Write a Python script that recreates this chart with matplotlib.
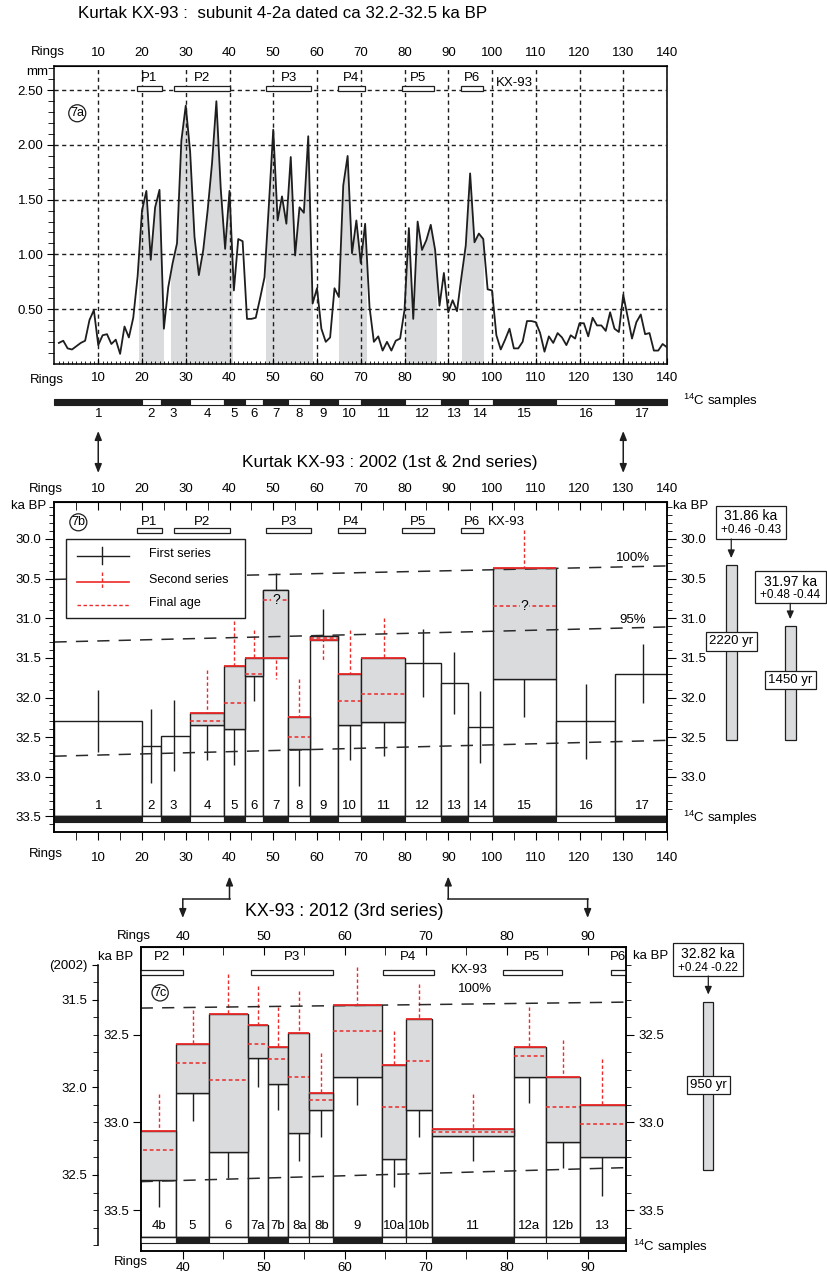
import numpy as np
import matplotlib
matplotlib.use('Agg')
import matplotlib.pyplot as plt
from matplotlib.patches import Rectangle
from matplotlib.transforms import blended_transform_factory as blend
from matplotlib.ticker import FormatStrFormatter

plt.rcParams['font.family'] = ['Liberation Sans', 'DejaVu Sans']
plt.rcParams['mathtext.fontset'] = 'custom'
plt.rcParams['mathtext.rm'] = 'Liberation Sans'
plt.rcParams['font.size'] = 9.5

INK = '#1e1e1e'
RED = '#ec2a2a'
GRAY = '#dadbdd'

# ---------------- data ----------------
# 7a : ring widths, mm
ring_no = np.arange(1, 141)
ring_width = [0.19, 0.21, 0.14, 0.13, 0.16, 0.19, 0.21, 0.40, 0.49, 0.17,
              0.26, 0.27, 0.18, 0.22, 0.09, 0.34, 0.24, 0.42, 0.80, 1.40,
              1.58, 0.95, 1.43, 1.59, 0.32, 0.70, 0.92, 1.10, 2.04, 2.36,
              1.94, 1.16, 0.81, 1.04, 1.40, 1.83, 2.40, 1.60, 1.05, 1.58,
              0.67, 1.14, 1.12, 0.41, 0.41, 0.42, 0.60, 0.79, 1.45, 2.14,
              1.31, 1.53, 1.28, 1.89, 0.99, 1.43, 1.38, 2.08, 0.55, 0.69,
              0.32, 0.20, 0.24, 0.69, 0.61, 1.63, 1.90, 1.01, 1.31, 0.92,
              1.28, 0.52, 0.20, 0.25, 0.12, 0.20, 0.12, 0.21, 0.23, 0.49,
              1.24, 0.41, 1.30, 1.04, 1.13, 1.27, 1.04, 0.53, 0.83, 0.47,
              0.58, 0.48, 0.79, 1.08, 1.74, 1.11, 1.19, 1.14, 0.68, 0.67,
              0.26, 0.13, 0.22, 0.32, 0.14, 0.14, 0.20, 0.39, 0.39, 0.38,
              0.28, 0.11, 0.25, 0.19, 0.28, 0.24, 0.17, 0.26, 0.23, 0.37,
              0.37, 0.25, 0.42, 0.35, 0.35, 0.30, 0.47, 0.32, 0.29, 0.63,
              0.43, 0.23, 0.38, 0.45, 0.27, 0.28, 0.12, 0.12, 0.18, 0.15]
shade_from = [19.4, 26.6, 48.3, 65.1, 80.1, 93.1]
shade_to = [24.7, 40.6, 58.8, 71.1, 87.1, 98.0]

p_names = ['P1', 'P2', 'P3', 'P4', 'P5', 'P6']
p_from = [18.9, 27.4, 48.4, 64.7, 79.5, 92.9]
p_to = [24.5, 40.0, 58.6, 71.0, 86.8, 98.0]

# 7b : 2002 dating, 1st & 2nd series (ka BP)
s02 = [str(i) for i in range(1, 18)]
s02_edges = [0, 20, 24.3, 31, 38.8, 43.5, 47.7, 53.4, 58.4, 64.7, 70, 80.1,
             88.3, 94.4, 100.2, 114.7, 128.1, 140]
s02_first = [32.30, 32.61, 32.48, 32.35, 32.40, 31.73, 30.65, 32.65, 31.22,
             32.35, 32.31, 31.56, 31.82, 32.37, 31.77, 32.30, 31.70]
s02_mid = [10, 22.1, 27.2, 34.9, 41.1, 45.6, 50.6, 55.9, 61.3, 67.5, 75.2,
           84.2, 91.4, 97.3, 107.4, 121.5, 134.4]
s02_err_top = [31.91, 32.15, 32.03, 32.30, 32.20, 31.60, 30.43, 32.45, 30.88,
               32.10, 32.10, 31.13, 31.43, 31.92, 31.30, 31.83, 31.33]
s02_err_bot = [32.69, 33.08, 32.93, 32.79, 32.85, 32.05, 30.80, 33.11, 31.25,
               32.79, 32.74, 31.99, 32.21, 32.82, 32.24, 32.77, 32.07]
s02_redated = ['4', '5', '6', '7', '8', '9', '10', '11', '15']
s02_second = [32.19, 31.60, 31.50, 31.50, 32.25, 31.27, 31.70, 31.50, 30.36]
s02_final = [32.30, 32.07, 31.70, 30.77, 32.50, 31.245, 32.04, 31.95, 30.85]
s02_red_top = [31.65, 31.04, 31.15, 31.30, 31.77, 31.25, 31.15, 31.00, 29.89]
s02_red_bot = [32.25, 31.90, 31.60, 31.77, 32.40, 31.53, 31.90, 31.90, 30.80]
s02_unsure = ['7', '15']
s02_line100 = [30.51, 30.34]
s02_line95 = [31.30, 31.11]
s02_line_low = [32.74, 32.54]
sum02_top = [30.33, 31.10]
sum02_bot = [32.54, 32.54]
sum02_age = ['31.86 ka', '31.97 ka']
sum02_err = ['+0.46 -0.43', '+0.48 -0.44']
sum02_span = ['2220 yr', '1450 yr']

# 7c : 2012 dating, 3rd series (ka BP)
s12 = ['4b', '5', '6', '7a', '7b', '8a', '8b', '9', '10a', '10b', '11', '12a', '12b', '13']
s12_edges = [33.5, 39.2, 43.2, 48.1, 50.5, 53.0, 55.6, 58.5, 64.6, 67.6, 70.8,
             80.9, 84.8, 89.0, 96.0]
s12_first = [33.33, 32.83, 33.17, 32.63, 32.78, 33.06, 32.93, 32.74, 33.21,
             32.93, 33.075, 32.74, 33.11, 33.20]
s12_second = [33.05, 32.55, 32.38, 32.445, 32.57, 32.49, 32.83, 32.33, 32.67,
              32.41, 33.04, 32.57, 32.74, 32.90]
s12_final = [33.16, 32.66, 32.76, 32.55, 32.64, 32.74, 32.87, 32.48, 32.91,
             32.65, 33.055, 32.62, 32.91, 33.01]
s12_mid = [37.0, 41.2, 45.6, 49.3, 51.7, 54.4, 57.1, 61.5, 66.1, 69.2, 75.8,
           82.8, 86.9, 91.8]
s12_err_bot = [33.48, 32.99, 33.32, 32.80, 32.93, 33.22, 33.085, 32.90, 33.37,
               33.085, 33.22, 32.89, 33.26, 33.42]
s12_red_top = [32.84, 32.36, 32.15, 32.22, 32.34, 32.25, 32.605, 32.11, 32.48,
               32.21, 32.84, 32.34, 32.53, 32.64]
s12_line100 = [32.347, 32.313]
s12_line_low = [33.338, 33.258]
s12_offset_2002 = 0.8
sum12_top, sum12_bot = 32.31, 33.27
sum12_age, sum12_err, sum12_span = '32.82 ka', '+0.24 -0.22', '950 yr'

# ---------------- figure ----------------
W, H = 827, 1275
fig = plt.figure(figsize=(W / 100, H / 100), dpi=100)


def box(x0, y0, x1, y1):
    return fig.add_axes([x0 / W, 1 - y1 / H, (x1 - x0) / W, (y1 - y0) / H])


ov = fig.add_axes([0, 0, 1, 1], zorder=10)
ov.set_xlim(0, W)
ov.set_ylim(H, 0)
ov.axis('off')


def odd(name):
    return int(''.join(c for c in name if c.isdigit())) % 2 == 1


dash_grid = (0, (3, 2.5))
long_dash = (0, (8, 6))
red_dot = (0, (2.5, 1.8))

# ================= 7a =================
ax_a = box(54.5, 65.7, 667, 363.7)
ax_a.set_xlim(0, 140)
ax_a.set_ylim(0, 2.725)
ax_a.set_axisbelow(False)
for a, b in zip(shade_from, shade_to):
    pc = ax_a.fill_between(ring_no, 0, ring_width, color=GRAY, lw=0, zorder=1)
    pc.set_clip_path(Rectangle((a, 0), b - a, 3, transform=ax_a.transData))
ax_a.plot(ring_no, ring_width, color=INK, lw=1.3, zorder=3)
ax_a.set_xticks(np.arange(10, 141, 10))
ax_a.set_xticks(np.arange(1, 140), minor=True)
ax_a.set_yticks([0.5, 1.0, 1.5, 2.0, 2.5])
ax_a.set_yticks(np.arange(0.1, 2.75, 0.1), minor=True)
ax_a.yaxis.set_major_formatter(FormatStrFormatter('%.2f'))
ax_a.grid(True, which='major', color=INK, lw=1.0, ls=dash_grid)
ax_a.tick_params(axis='x', which='major', direction='in', length=4, pad=6, labelsize=9.5)
ax_a.tick_params(axis='x', which='minor', direction='in', length=2.5)
ax_a.tick_params(axis='y', which='major', direction='out', length=5, pad=3, labelsize=9.5)
ax_a.tick_params(axis='y', which='minor', direction='out', length=4)
ta = ax_a.secondary_xaxis('top')
ta.set_xticks(np.arange(10, 141, 10))
ta.tick_params(length=0, pad=5, labelsize=9.5)
for s in ax_a.spines.values():
    s.set_linewidth(1.1)
for n, a, b in zip(p_names, p_from, p_to):
    ax_a.add_patch(Rectangle((a, 2.49), b - a, 0.045, fc='white', ec=INK, lw=0.9, zorder=5))
    ax_a.text((a + b) / 2, 2.61, n, ha='center', va='center', fontsize=9.5, zorder=5)
ax_a.text(100.9, 2.565, 'KX-93', ha='left', va='center', fontsize=9.5, zorder=5)
ax_a.text(5.2, 2.29, '7a', ha='center', va='center', fontsize=9,
          bbox=dict(boxstyle='circle,pad=0.12', fc='white', ec=INK, lw=0.9), zorder=5)

# sample band under 7a
ba = blend(ax_a.transData, ov.transData)
for i, n in enumerate(s02):
    x0, x1 = s02_edges[i], s02_edges[i + 1]
    ov.add_patch(Rectangle((x0, 399), x1 - x0, 5.5, transform=ba,
                           fc=INK if odd(n) else 'white', ec=INK, lw=0.8, clip_on=False))
    ov.text(s02_mid[i], 414, n, transform=ba, ha='center', va='center', fontsize=9.5)
ov.text(683, 405, r'$^{14}$C samples', ha='left', va='baseline', fontsize=9.5)

# ================= 7b =================
ax_b = box(54.5, 501.7, 667, 832.3)
ax_b.set_xlim(0, 140)
ax_b.set_ylim(33.70, 29.53)
for i, n in enumerate(s02):
    x0, x1 = s02_edges[i], s02_edges[i + 1]
    ax_b.add_patch(Rectangle((x0, s02_first[i]), x1 - x0, 33.5 - s02_first[i],
                             fc='white', ec=INK, lw=1.0, zorder=2))
    ax_b.vlines(s02_mid[i], s02_err_top[i], s02_err_bot[i], color=INK, lw=1.0, zorder=3)
    ax_b.text(s02_mid[i], 33.37, n, ha='center', va='center', fontsize=9.5, zorder=6)
    ax_b.add_patch(Rectangle((x0, 33.5), x1 - x0, 0.065,
                             fc=INK if odd(n) else 'white', ec=INK, lw=0.8, zorder=6))
for j, n in enumerate(s02_redated):
    i = s02.index(n)
    x0, x1 = s02_edges[i], s02_edges[i + 1]
    lo, hi = sorted([s02_first[i], s02_second[j]])
    ax_b.vlines(s02_mid[i], s02_red_top[j], s02_red_bot[j], color=RED, lw=1.0, ls=red_dot, zorder=3)
    ax_b.add_patch(Rectangle((x0, lo), x1 - x0, hi - lo, fc=GRAY, ec=INK, lw=1.0, zorder=4))
    ax_b.hlines(s02_second[j], x0, x1, color=RED, lw=1.3, zorder=5)
    ax_b.hlines(s02_final[j], x0, x1, color=RED, lw=1.1, ls=red_dot, zorder=5)
    if n in s02_unsure:
        ax_b.text(s02_mid[i], s02_final[j], '?', ha='center', va='center', fontsize=10, zorder=6,
                  bbox=dict(boxstyle='square,pad=0.05', fc=GRAY, ec='none'))
ax_b.hlines(33.5, 0, 140, color=INK, lw=1.0, zorder=6)
for lv in (s02_line100, s02_line95, s02_line_low):
    ax_b.plot([0, 140], lv, color='#2a2a2a', lw=1.1, ls=long_dash, zorder=4.5)
ax_b.text(132.2, 30.24, '100%', ha='center', va='center', fontsize=9.5, zorder=6)
ax_b.text(132.1, 31.02, '95%', ha='center', va='center', fontsize=9.5, zorder=6)
for n, a, b in zip(p_names, p_from, p_to):
    ax_b.add_patch(Rectangle((a, 29.86), b - a, 0.06, fc='white', ec=INK, lw=0.9, zorder=5))
    ax_b.text((a + b) / 2, 29.78, n, ha='center', va='center', fontsize=9.5, zorder=5)
ax_b.text(99.0, 29.79, 'KX-93', ha='left', va='center', fontsize=9.5, zorder=5)
ax_b.text(5.45, 29.79, '7b', ha='center', va='center', fontsize=9,
          bbox=dict(boxstyle='circle,pad=0.12', fc='white', ec=INK, lw=0.9), zorder=5)

# legend
ax_b.add_patch(Rectangle((2.55, 30.0), 40.95, 1.0, fc='white', ec=INK, lw=1.0, zorder=7))
ax_b.plot([5.1, 17.0], [30.21, 30.21], color=INK, lw=1.0, zorder=8)
ax_b.plot([10.8, 10.8], [30.10, 30.32], color=INK, lw=1.0, zorder=8)
ax_b.text(21.7, 30.19, 'First series', va='center', fontsize=9, zorder=8)
ax_b.plot([5.1, 17.0], [30.54, 30.54], color=RED, lw=1.2, zorder=8)
ax_b.plot([10.8, 10.8], [30.42, 30.65], color=RED, lw=1.0, ls=red_dot, zorder=8)
ax_b.text(21.7, 30.52, 'Second series', va='center', fontsize=9, zorder=8)
ax_b.plot([5.1, 17.0], [30.83, 30.83], color=RED, lw=1.0, ls=red_dot, zorder=8)
ax_b.text(21.7, 30.81, 'Final age', va='center', fontsize=9, zorder=8)

ax_b.set_xticks(np.arange(10, 141, 10))
ax_b.set_xticks(np.arange(5, 140, 10), minor=True)
ax_b.tick_params(axis='x', which='both', direction='out', length=6, pad=8, labelsize=9.5)
tb = ax_b.secondary_xaxis('top')
tb.set_xticks(np.arange(10, 141, 10))
tb.set_xticks(np.arange(5, 140, 10), minor=True)
tb.tick_params(which='both', direction='in', length=6, pad=5, labelsize=9.5)
ax_b.set_yticks(np.arange(30.0, 33.51, 0.5))
ax_b.set_yticks(np.arange(29.6, 33.65, 0.1), minor=True)
ax_b.yaxis.set_major_formatter(FormatStrFormatter('%.1f'))
ax_b.tick_params(axis='y', which='major', direction='out', length=6.5, pad=3, labelsize=9.5)
ax_b.tick_params(axis='y', which='minor', direction='out', length=3.5)
rb = ax_b.twinx()
rb.set_ylim(ax_b.get_ylim())
rb.set_yticks(np.arange(30.0, 33.01, 0.5))
rb.set_yticks(np.arange(29.6, 33.45, 0.1), minor=True)
rb.yaxis.set_major_formatter(FormatStrFormatter('%.1f'))
rb.tick_params(axis='y', which='major', direction='out', length=6.5, pad=3, labelsize=9.5)
rb.tick_params(axis='y', which='minor', direction='out', length=3.5)
for a_ in (ax_b, rb):
    for s in a_.spines.values():
        s.set_linewidth(1.1)

# summary bars for 7b
bb = blend(ov.transData, ax_b.transData)
bar_x = [726, 785]
for k in range(2):
    ov.add_patch(Rectangle((bar_x[k], sum02_top[k]), 10.5, sum02_bot[k] - sum02_top[k],
                           transform=bb, fc=GRAY, ec=INK, lw=0.9, clip_on=False))
box_xy = [(715.7, 505.7, 786, 539), (755, 571, 826, 603.3)]
span_y = [641.3, 680]
for k, (x0, y0, x1, y1) in enumerate(box_xy):
    ov.add_patch(Rectangle((x0, y0), x1 - x0, y1 - y0, fc='white', ec=INK, lw=0.9))
    ov.text((x0 + x1) / 2, y0 + 10.5, sum02_age[k], ha='center', va='center', fontsize=10)
    ov.text((x0 + x1) / 2, y0 + 24.5, sum02_err[k], ha='center', va='center', fontsize=8.5)
    xc = bar_x[k] + 5.25
    ytop = H - ax_b.transData.transform((0, sum02_top[k]))[1]
    ov.annotate('', xy=(xc, ytop - 7), xytext=(xc, y1),
                arrowprops=dict(arrowstyle='-|>,head_length=0.5,head_width=0.22',
                                color=INK, lw=0.9, shrinkA=0, shrinkB=0))
    ov.text(xc, span_y[k], sum02_span[k], ha='center', va='center', fontsize=9.5,
            bbox=dict(boxstyle='square,pad=0.25', fc='white', ec=INK, lw=0.9))

# ================= 7c =================
ax_c = box(140.7, 947.3, 625.7, 1251)
ax_c.set_xlim(34.8, 94.7)
ax_c.set_ylim(33.734, 32.0)
for i, n in enumerate(s12):
    x0, x1 = s12_edges[i], s12_edges[i + 1]
    ax_c.add_patch(Rectangle((x0, s12_first[i]), x1 - x0, 33.656 - s12_first[i],
                             fc='white', ec=INK, lw=1.0, zorder=2))
    ax_c.vlines(s12_mid[i], s12_first[i], s12_err_bot[i], color=INK, lw=1.0, zorder=3)
    ax_c.vlines(s12_mid[i], s12_red_top[i], s12_second[i], color=RED, lw=1.0, ls=red_dot, zorder=3)
    lo, hi = sorted([s12_first[i], s12_second[i]])
    ax_c.add_patch(Rectangle((x0, lo), x1 - x0, hi - lo, fc=GRAY, ec=INK, lw=1.0, zorder=4))
    ax_c.hlines(s12_second[i], x0, x1, color=RED, lw=1.3, zorder=5)
    ax_c.hlines(s12_final[i], x0, x1, color=RED, lw=1.1, ls=red_dot, zorder=5)
    ax_c.text(s12_mid[i], 33.59, n, ha='center', va='center', fontsize=9.5, zorder=6)
    ax_c.add_patch(Rectangle((x0, 33.656), x1 - x0, 0.03,
                             fc=INK if odd(n) else 'white', ec=INK, lw=0.8, zorder=6))
ax_c.hlines(33.656, 34.8, 94.7, color=INK, lw=1.0, zorder=6)
for lv in (s12_line100, s12_line_low):
    ax_c.plot([34.8, 94.7], lv, color='#2a2a2a', lw=1.1, ls=long_dash, zorder=4.5)
ax_c.text(75.35, 32.13, 'KX-93', ha='center', va='center', fontsize=9.5, zorder=6)
ax_c.text(76.1, 32.24, '100%', ha='center', va='center', fontsize=9.5, zorder=6)
for n, a, b in zip(p_names, p_from, p_to):
    ax_c.add_patch(Rectangle((a, 32.13), b - a, 0.03, fc='white', ec=INK, lw=0.9, zorder=5))
    xm = (max(a, 34.8) + min(b, 94.7)) / 2
    if 34.8 < xm < 94.7:
        ax_c.text(xm, 32.055, n, ha='center', va='center', fontsize=9.5, zorder=5)
ax_c.text(37.2, 32.26, '7c', ha='center', va='center', fontsize=9,
          bbox=dict(boxstyle='circle,pad=0.12', fc='white', ec=INK, lw=0.9), zorder=5)

ax_c.set_xticks(np.arange(40, 91, 10))
ax_c.set_xticks(np.arange(45, 94, 10), minor=True)
ax_c.tick_params(axis='x', which='both', direction='out', length=6, pad=2, labelsize=9.5)
tc = ax_c.secondary_xaxis('top')
tc.set_xticks(np.arange(40, 91, 10))
tc.set_xticks(np.arange(45, 94, 10), minor=True)
tc.tick_params(which='both', direction='in', length=6, pad=3, labelsize=9.5)
ax_c.set_yticks([32.5, 33.0, 33.5])
ax_c.yaxis.set_major_formatter(FormatStrFormatter('%.1f'))
ax_c.tick_params(axis='y', direction='out', length=6, pad=2, labelsize=9.5)
rc = ax_c.twinx()
rc.set_ylim(ax_c.get_ylim())
rc.set_yticks([32.5, 33.0, 33.5])
rc.set_yticks(np.arange(32.1, 33.65, 0.1), minor=True)
rc.yaxis.set_major_formatter(FormatStrFormatter('%.1f'))
rc.tick_params(axis='y', which='major', direction='out', length=6, pad=3, labelsize=9.5)
rc.tick_params(axis='y', which='minor', direction='out', length=3.5)
for a_ in (ax_c, rc):
    for s in a_.spines.values():
        s.set_linewidth(1.1)

# outer 2002 scale
ax_o = box(97.7, 947.3, 98.7, 1251)
ax_o.set_ylim(33.734 - s12_offset_2002, 32.0 - s12_offset_2002)
ax_o.patch.set_visible(False)
for s in ('top', 'right', 'bottom'):
    ax_o.spines[s].set_visible(False)
ax_o.spines['left'].set_bounds(31.3, 32.9)
ax_o.spines['left'].set_linewidth(1.1)
ax_o.set_xticks([])
ax_o.set_yticks([31.3, 31.5, 32.0, 32.5])
ax_o.set_yticklabels(['(2002)', '31.5', '32.0', '32.5'])
ax_o.set_yticks(np.arange(31.3, 32.95, 0.1), minor=True)
ax_o.tick_params(axis='y', which='major', direction='out', length=4.5, pad=3, labelsize=9.5)
ax_o.tick_params(axis='y', which='minor', direction='out', length=3.5)

# summary bar for 7c
bc = blend(ov.transData, ax_c.transData)
ov.add_patch(Rectangle((703.3, sum12_top), 10, sum12_bot - sum12_top, transform=bc,
                       fc=GRAY, ec=INK, lw=0.9, clip_on=False))
ov.add_patch(Rectangle((672.7, 943.3), 70.6, 32.7, fc='white', ec=INK, lw=0.9))
ov.text(708, 954, sum12_age, ha='center', va='center', fontsize=10)
ov.text(708, 968, sum12_err, ha='center', va='center', fontsize=8.5)
ytop = H - ax_c.transData.transform((0, sum12_top))[1]
ov.annotate('', xy=(708.3, ytop - 7), xytext=(708.3, 976),
            arrowprops=dict(arrowstyle='-|>,head_length=0.5,head_width=0.22',
                            color=INK, lw=0.9, shrinkA=0, shrinkB=0))
ov.text(708.3, 1085, sum12_span, ha='center', va='center', fontsize=9.5,
        bbox=dict(boxstyle='square,pad=0.25', fc='white', ec=INK, lw=0.9))

# ---------------- titles, axis words, connectors ----------------
ov.text(78, 13, 'Kurtak KX-93 :  subunit 4-2a dated ca 32.2-32.5 ka BP', ha='left', va='center', fontsize=12.2)
ov.text(242, 462, 'Kurtak KX-93 : 2002 (1st & 2nd series)', ha='left', va='center', fontsize=12.4)
ov.text(245, 912, 'KX-93 : 2012 (3rd series)', ha='left', va='center', fontsize=12.8)
for x, y, s in [(48, 52, 'Rings'), (47, 380, 'Rings'), (46, 489, 'Rings'), (46, 854, 'Rings'),
                (134, 936, 'Rings'), (131, 1262, 'Rings'), (37, 72, 'mm'),
                (29, 506, 'ka BP'), (691, 506, 'ka BP'), (115.5, 957, 'ka BP'), (650.5, 956, 'ka BP')]:
    ov.text(x, y, s, ha='center', va='center', fontsize=9.5)
ov.text(683, 821.7, r'$^{14}$C samples', ha='left', va='baseline', fontsize=9.5)
ov.text(633, 1251, r'$^{14}$C samples', ha='left', va='baseline', fontsize=9.5)

arrow2 = dict(arrowstyle='<|-|>,head_length=0.55,head_width=0.22', color=INK, lw=1.1,
              shrinkA=0, shrinkB=0)
arrow1 = dict(arrowstyle='-|>,head_length=0.55,head_width=0.22', color=INK, lw=1.1,
              shrinkA=0, shrinkB=0)
for r in (10, 130):
    xp = ax_b.transData.transform((r, 30))[0]
    ov.annotate('', xy=(xp, 431), xytext=(xp, 473), arrowprops=arrow2)
for r in (40, 90):
    xb = ax_b.transData.transform((r, 30))[0]
    xc = ax_c.transData.transform((r, 33))[0]
    ov.annotate('', xy=(xb, 876.5), xytext=(xb, 899), arrowprops=arrow1)
    ov.plot([xb, xc], [899, 899], color=INK, lw=1.1)
    ov.annotate('', xy=(xc, 918), xytext=(xc, 899), arrowprops=arrow1)

fig.savefig('out.png', dpi=100)
